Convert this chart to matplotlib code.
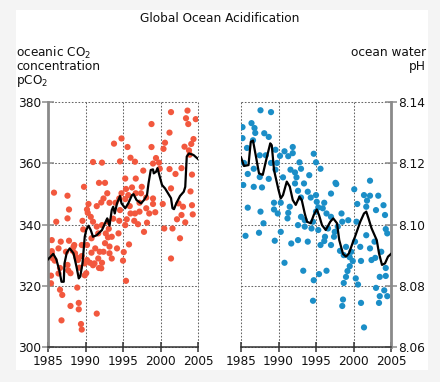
import matplotlib
matplotlib.use("Agg")
import matplotlib.pyplot as plt
from matplotlib.patches import Rectangle

# --- data ---
# left panel: oceanic pCO2 (scatter) and smoothed curve
co2_years = [
    2001.4, 2003.6, 1998.8, 2003.4, 2004.7, 2003.7, 2001.2, 2004.4, 2000.6, 2004.1,
    1993.8, 1994.8, 1995.6, 1998.8, 2000.4, 2003.2, 2003.8, 2003.9, 1996.0, 1996.6,
    1994.6, 1991.0, 1992.2, 1999.4, 1999.0, 1999.8, 1999.9, 1997.7, 2001.2, 2002.8,
    2002.0, 2004.2, 1995.3, 1996.7, 1991.8, 1992.6,
    1989.8, 1996.2, 1997.5, 1995.4, 1994.8, 1995.7, 1996.7, 1997.4, 2001.4, 2004.0,
    1985.8, 1987.6, 1992.9, 1992.4, 1992.1, 1990.4, 1990.2, 1991.5, 1993.2, 1994.0,
    1994.5, 1995.3, 1994.6, 1995.9, 1997.2, 1998.1, 1999.0, 1999.0, 1998.1, 1999.3,
    1998.5, 1997.2, 2000.3, 2002.4, 2003.0, 2004.2, 2004.3, 2002.8, 2002.2, 2003.3,
    2000.5, 2001.6, 2002.6, 2001.4, 1986.1, 1987.8, 1989.6, 1990.3, 1990.7, 1991.0,
    1992.2, 1991.5, 1993.0, 1993.7, 1994.5, 1995.5, 1996.5, 1995.3, 1997.8, 1997.0,
    1998.2, 1996.0, 1996.6, 1992.7, 1993.0, 1991.7, 1990.8, 1989.7, 1985.5, 1986.7,
    1987.8, 1986.4, 1988.4, 1987.4, 1985.5, 1988.6, 1989.5, 1985.9, 1989.0, 1990.2,
    1990.6, 1991.7, 1992.4, 1993.5, 1994.2, 1995.0, 1991.3,
    1985.5, 1988.5, 1985.6, 1985.4, 1985.4, 1986.6, 1986.9, 1988.0, 1986.8, 1989.1,
    1989.1, 1989.4, 1989.5, 1991.5, 1988.9, 1995.4, 1995.8, 1995.1, 1990.2, 1990.8,
    1991.2, 1991.9, 1992.1, 1992.6, 1993.2, 1993.2, 1992.2, 1993.5, 1994.4, 1993.1,
    1989.5, 1989.9, 1990.1, 1988.0, 1987.6, 1989.2, 1988.8, 1988.3, 1987.7, 1986.6,
    1986.4, 1991.0, 1991.8, 1989.9, 1987.6,
]
co2_values = [
    376.7, 377.2, 372.8, 374.7, 374.4, 372.8, 370.0, 367.9, 366.7, 366.3,
    366.4, 368.1, 365.3, 365.3, 364.7, 365.4, 364.2, 362.8, 361.8, 360.5,
    360.6, 360.4, 360.2, 361.7, 359.9, 360.2, 358.2, 357.6, 358.1, 358.4,
    356.5, 356.3, 355.0, 355.0, 353.6, 353.6,
    352.3, 352.1, 352.3, 351.6, 350.2, 349.6, 350.2, 350.2, 351.8, 350.8,
    350.4, 349.4, 350.2, 348.5, 347.2, 346.7, 344.9, 346.0, 347.1, 347.1,
    348.5, 348.3, 344.7, 346.0, 347.1, 348.8, 348.5, 346.7, 345.3, 344.0,
    343.6, 344.2, 346.7, 346.9, 345.8, 346.3, 343.3, 343.1, 341.7, 340.7,
    338.7, 338.7, 335.5, 328.9, 340.9, 344.9, 341.2, 343.8, 342.5, 340.9,
    339.8, 339.3, 340.9, 341.9, 341.2, 341.7, 341.2, 339.8, 337.6, 340.1,
    340.6, 343.6, 343.6, 337.1, 335.8, 337.1, 335.5, 338.4, 334.9, 334.4,
    334.7, 332.2, 332.7, 331.1, 330.6, 330.6, 333.3, 328.2, 328.4, 328.4,
    327.5, 328.9, 331.1, 328.9, 332.2, 328.2, 332.2,
    331.3, 333.3, 329.0, 323.3, 320.8, 318.7, 317.0, 313.4, 308.7, 314.4,
    312.3, 307.5, 305.7, 310.9, 319.4, 321.6, 333.5, 331.0, 333.3, 330.8,
    327.3, 331.1, 325.7, 333.9, 330.6, 332.8, 327.5, 336.0, 337.1, 338.6,
    329.7, 327.3, 324.1, 324.1, 326.8, 325.9, 329.3, 331.4, 325.0, 325.8,
    324.0, 326.7, 325.8, 323.4, 342.0,
]
co2_line_years = [
    1985.0, 1985.7, 1986.1, 1986.5, 1986.8, 1987.1, 1987.2, 1987.5, 1987.9, 1988.4,
    1988.8, 1989.1, 1989.3, 1989.6, 1989.9, 1990.1, 1990.4, 1990.7, 1991.0, 1991.5,
    1992.2, 1992.6, 1992.9, 1993.2, 1993.5, 1993.7, 1993.9, 1994.2, 1994.6, 1994.8,
    1995.3, 1995.7, 1996.2, 1996.4, 1996.8, 1997.4, 1997.8, 1998.2, 1998.4, 1998.7,
    1999.0, 1999.1, 1999.4, 1999.6, 1999.9, 2000.2, 2000.6, 2001.0, 2001.4, 2001.6,
    2001.8, 2002.1, 2002.6, 2003.1, 2003.3, 2003.5, 2003.8, 2004.4, 2005.0,
]
co2_line = [
    328.6, 330.4, 328.7, 325.1, 321.3, 321.3, 327.3, 330.8, 332.2, 330.6,
    326.2, 322.4, 323.0, 327.3, 336.0, 338.2, 339.6, 338.2, 336.0, 336.5,
    338.2, 340.4, 342.0, 339.6, 344.7, 345.8, 343.6, 346.9, 349.3, 346.9,
    345.3, 346.9, 349.6, 349.9, 348.0, 346.9, 348.0, 349.6, 353.4, 357.8,
    358.0, 356.7, 357.2, 358.4, 355.6, 352.9, 351.8, 350.2, 348.6, 345.3,
    345.0, 346.9, 349.3, 350.7, 352.3, 362.2, 363.2, 362.7, 361.4,
]

# right panel: ocean water pH (scatter) and smoothed curve
ph_years = [
    1987.6, 1989.0, 1985.2, 1986.4, 1986.8, 1986.9, 1988.1, 1988.7, 1985.2, 1986.6,
    1985.8, 1987.5, 1988.3, 1989.6, 1990.8, 1991.9, 1991.9, 1991.3, 1990.2, 1989.8,
    1992.8, 1994.7, 1995.0, 1995.6, 1991.6, 1992.2, 1993.0, 1992.4, 1994.1, 1985.9,
    1986.7, 1987.5, 1988.7, 1989.6, 1989.0, 1985.4, 2002.2, 1990.6, 1997.6, 2003.0,
    1985.3, 1986.7, 1987.8, 1985.9, 1987.6, 1988.0, 1985.6, 1987.4, 1989.4, 1989.4,
    1989.9, 1990.3, 1990.3, 1989.5, 1990.8, 1991.5, 1991.3, 1991.2, 1992.6, 1993.0,
    1993.9, 1994.3, 1993.4, 1992.2, 1995.0, 1995.1, 1995.3, 1996.1, 1997.0, 1997.7,
    2000.1, 2000.5, 2001.4, 2002.2, 2001.8, 2001.7, 2003.3, 2004.0, 2004.2, 2004.3,
    2004.5, 2002.8, 2003.7, 2002.2, 2002.9, 2002.4, 2001.7, 2000.9, 2000.2, 1999.7,
    2001.0, 1999.9, 1999.5, 1998.7, 1998.2, 1999.0, 2000.4, 1999.3, 1998.5, 1997.9,
    1997.5, 1997.4, 1996.2, 1996.6, 1996.1, 1997.0, 1995.6, 1993.9, 1992.6, 1991.7,
    1995.3, 1994.4, 1993.5, 1992.6, 1993.5, 1994.6, 1993.0, 1996.4, 1997.0, 1998.4,
    1995.0, 1995.9,
    1993.3, 1995.4, 1996.4, 1994.7, 1994.6, 1999.2, 1999.5, 1999.0, 1998.7, 2000.3,
    2000.6, 1998.6, 1998.5, 2001.0, 2001.4, 2003.0, 2003.5, 2004.3, 2004.3, 2004.1,
    2003.5, 2004.5, 2003.4,
]
ph_values = [
    8.1373, 8.1367, 8.1318, 8.1331, 8.1315, 8.1299, 8.1298, 8.1286, 8.1282, 8.1275,
    8.1250, 8.1226, 8.1226, 8.1244, 8.1239, 8.1253, 8.1233, 8.1223, 8.1224, 8.1201,
    8.1203, 8.1231, 8.1203, 8.1182, 8.1179, 8.1170, 8.1182, 8.1154, 8.1161, 8.1165,
    8.1182, 8.1155, 8.1149, 8.1179, 8.1201, 8.1201, 8.1143, 8.1154, 8.1136, 8.1047,
    8.1129, 8.1123, 8.1121, 8.1055, 8.1042, 8.1004, 8.0963, 8.0973, 8.1071, 8.1049,
    8.1036, 8.1071, 8.0976, 8.0947, 8.0875, 8.1058, 8.1038, 8.1020, 8.1110, 8.1088,
    8.1107, 8.1088, 8.1134, 8.1134, 8.1096, 8.1074, 8.1056, 8.1071, 8.1101, 8.1132,
    8.1115, 8.1067, 8.1096, 8.1094, 8.1078, 8.1058, 8.1094, 8.1063, 8.1031, 8.0985,
    8.0971, 8.0944, 8.0911, 8.0922, 8.0891, 8.0884, 8.0965, 8.0927, 8.0944, 8.0911,
    8.0881, 8.0881, 8.0893, 8.0900, 8.0914, 8.0927, 8.1009, 8.1014, 8.1009, 8.0993,
    8.0976, 8.0960, 8.0960, 8.0987, 8.0946, 8.0933, 8.0933, 8.0944, 8.0949, 8.0938,
    8.0982, 8.0987, 8.0993, 8.0998, 8.1014, 8.1009, 8.1025, 8.1036, 8.1025, 8.1036,
    8.1042, 8.1053,
    8.0849, 8.0838, 8.0849, 8.0818, 8.0751, 8.0848, 8.0864, 8.0829, 8.0809, 8.0824,
    8.0804, 8.0755, 8.0734, 8.0744, 8.0664, 8.0793, 8.0829, 8.0832, 8.0858, 8.0785,
    8.0766, 8.0766, 8.0744,
]
ph_line_years = [
    1985.0, 1985.4, 1986.0, 1986.3, 1986.6, 1987.0, 1987.4, 1987.9, 1988.3, 1988.9,
    1989.1, 1989.4, 1990.0, 1990.3, 1990.6, 1991.1, 1991.5, 1991.9, 1992.3, 1992.8,
    1993.1, 1993.5, 1993.8, 1994.3, 1994.7, 1995.1, 1995.4, 1995.8, 1996.3, 1996.9,
    1997.3, 1997.8, 1998.1, 1998.6, 1999.0, 1999.4, 1999.9, 2000.2, 2000.9, 2001.4,
    2001.7, 2002.0, 2002.4, 2002.9, 2003.1, 2003.4, 2003.8, 2004.2, 2004.6, 2005.0,
]
ph_line = [
    8.1219, 8.1191, 8.1194, 8.1270, 8.1274, 8.1221, 8.1167, 8.1162, 8.1205, 8.1265,
    8.1259, 8.1178, 8.1113, 8.1085, 8.1096, 8.1140, 8.1124, 8.1080, 8.1064, 8.1091,
    8.1080, 8.1036, 8.1009, 8.1004, 8.1031, 8.1049, 8.1031, 8.0998, 8.0982, 8.1009,
    8.1020, 8.1004, 8.0949, 8.0904, 8.0895, 8.0906, 8.0941, 8.0960, 8.1009, 8.1036,
    8.1042, 8.1020, 8.0988, 8.0960, 8.0949, 8.0906, 8.0868, 8.0873, 8.0895, 8.0904,
]

year_ticks = [1985, 1990, 1995, 2000, 2005]
co2_ticks = [300, 320, 340, 360, 380]
ph_ticks = [8.06, 8.08, 8.10, 8.12, 8.14]

# --- styling ---
plt.rcParams['font.family'] = ['DejaVu Sans']
plt.rcParams['lines.scale_dashes'] = False
FS = 8.7
RED = '#f2583e'
BLUE = '#1b8ec7'
SPINE_GRAY = '#8a8a8a'
DARK = '#333333'
GRID = '#666666'

W, H = 440, 382
fig = plt.figure(figsize=(W / 100, H / 100), dpi=100, facecolor='#f4f4f4')
# white panel behind everything
fig.patches.append(Rectangle((16 / W, 1 - 370 / H), 412 / W, 360 / H,
                             transform=fig.transFigure, facecolor='white',
                             edgecolor='none', zorder=-10))


def style_axes(ax, side):
    ax.set_facecolor('none')
    ax.set_xlim(1985, 2005)
    ax.set_xticks(year_ticks)
    for s in ax.spines.values():
        s.set_visible(False)
    ax.spines[side].set_visible(True)
    ax.spines[side].set_color(SPINE_GRAY)
    ax.spines[side].set_linewidth(2)
    ax.spines['bottom'].set_visible(True)
    ax.spines['bottom'].set_color(DARK)
    ax.spines['bottom'].set_linewidth(1.1)
    ax.tick_params(axis='x', direction='inout', length=7, width=1.1,
                   color=DARK, labelsize=FS, pad=2, labelcolor='#111111')
    ax.tick_params(axis='y', direction='inout', length=8, width=1.1,
                   color=SPINE_GRAY, labelsize=FS, pad=1, labelcolor='#111111')


def add_grid(ax, yticks):
    # dotted reference lines at every tick
    for x in year_ticks:
        ax.plot([x, x], [yticks[0], yticks[-1]], color=GRID, linewidth=0.75,
                linestyle=(0, (1.2, 1.2)), zorder=1, clip_on=False)
    for y in yticks:
        ax.plot([year_ticks[0], year_ticks[-1]], [y, y], color=GRID,
                linewidth=0.75, linestyle=(0, (1.2, 1.2)), zorder=1,
                clip_on=False)


ax1 = fig.add_axes([48 / W, 1 - 347 / H, 150 / W, 245 / H])
style_axes(ax1, 'left')
add_grid(ax1, co2_ticks)
ax1.set_ylim(300, 380)
ax1.set_yticks(co2_ticks)
ax1.scatter(co2_years, co2_values, s=20, color=RED, edgecolors='none', zorder=2)
ax1.plot(co2_line_years, co2_line, color='black', linewidth=1.6, zorder=3)

ax2 = fig.add_axes([241 / W, 1 - 347 / H, 150 / W, 245 / H])
style_axes(ax2, 'right')
ax2.yaxis.tick_right()
add_grid(ax2, ph_ticks)
ax2.set_ylim(8.06, 8.14)
ax2.set_yticks(ph_ticks)
ax2.set_yticklabels([f'{v:.2f}' for v in ph_ticks])
ax2.scatter(ph_years, ph_values, s=20, color=BLUE, edgecolors='none', zorder=2)
ax2.plot(ph_line_years, ph_line, color='black', linewidth=1.6, zorder=3)

# titles and axis captions
fig.text(220 / W, 1 - 22 / H, 'Global Ocean Acidification', ha='center',
         va='baseline', fontsize=FS, color='#111111')
fig.text(16 / W, 1 - 57 / H, 'oceanic CO$_2$', ha='left', va='baseline',
         fontsize=FS, color='#111111')
fig.text(16 / W, 1 - 70.5 / H, 'concentration', ha='left', va='baseline',
         fontsize=FS, color='#111111')
fig.text(16 / W, 1 - 84 / H, 'pCO$_2$', ha='left', va='baseline',
         fontsize=FS, color='#111111')
fig.text(426 / W, 1 - 56.5 / H, 'ocean water', ha='right', va='baseline',
         fontsize=FS, color='#111111')
fig.text(426 / W, 1 - 70 / H, 'pH', ha='right', va='baseline',
         fontsize=FS, color='#111111')

fig.savefig('out.png', dpi=100, facecolor=fig.get_facecolor())
